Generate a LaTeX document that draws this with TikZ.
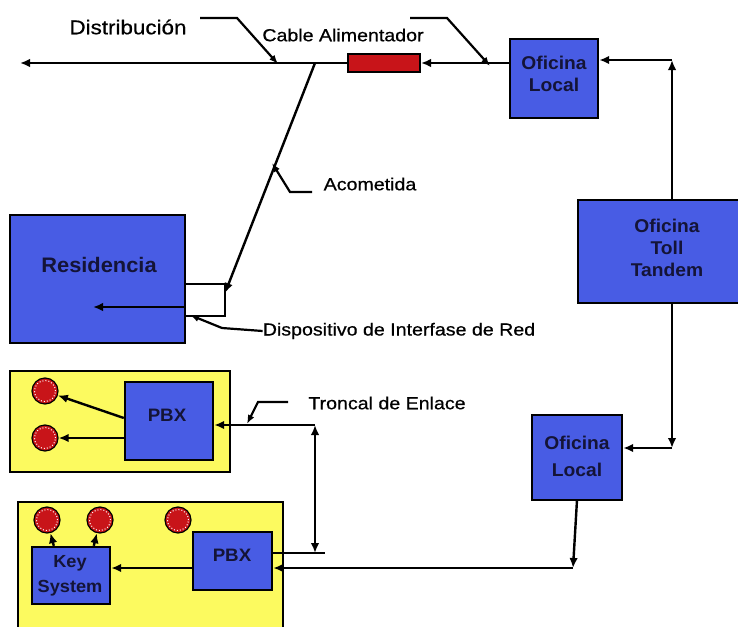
\documentclass[tikz,border=0pt]{standalone}
\usepackage{fontspec}
\setmainfont{Liberation Sans}
\newfontfamily\lab[FakeStretch=1.12,FakeBold=0.6]{Liberation Sans}
\newfontfamily\boxf[FakeStretch=1.04]{Liberation Sans}
\usetikzlibrary{arrows.meta,calc}
\definecolor{boxblue}{RGB}{72,92,228}
\definecolor{cred}{RGB}{200,20,25}
\definecolor{ylw}{RGB}{252,250,95}
\definecolor{ink}{RGB}{20,20,55}
\tikzset{
  bluebox/.style={draw=black, line width=2.4pt, fill=boxblue, inner sep=0pt},
  boxtext/.style={inner sep=0pt, align=center, text=ink, font=\boxf\bfseries\fontsize{18.5}{22}\selectfont},
  ybox/.style={draw=black, line width=2.4pt, fill=ylw, inner sep=0pt},
  phone/.style={circle, draw=black, line width=1.2pt, fill=cred, minimum size=26pt, inner sep=0pt,
    path picture={\draw[white, dotted, line width=1pt] (path picture bounding box.center) circle (10.5pt);}},
  wire/.style={line width=2.4pt, -{Latex[length=10pt,width=8.5pt]}},
  plainwire/.style={line width=2.4pt},
  leader/.style={line width=2.2pt, -{Latex[length=9pt,width=7pt]}},
  lbl/.style={font=\lab\fontsize{17.5}{20}\selectfont, inner sep=0pt},
  intext/.style={font=\boxf\bfseries\fontsize{18}{25}\selectfont, inner sep=0pt, text=ink, align=center}
}
\begin{document}
\begin{tikzpicture}[x=1pt,y=-1pt]
\useasboundingbox (0,0) rectangle (738,626);
% yellow premises
\node[ybox, minimum width=220pt, minimum height=101pt] (y1) at (120,421.5) {};
\node[ybox, minimum width=265pt, minimum height=128pt] (y2) at (150.5,566) {};
% boxes
\node[bluebox, minimum width=88pt, minimum height=79pt] (ol1) at (554,78.5) {};
\node[boxtext] (ol1t) at (554,74) {Oficina\\Local};
\node[bluebox, minimum width=178pt, minimum height=103pt] (tt) at (667,251.5) {};
\node[boxtext] (ttt) at (667,248) {Oficina\\Toll\\Tandem};
\node[bluebox, minimum width=90pt, minimum height=85pt] (ol2) at (577,457.5) {};
\node[boxtext, font=\boxf\bfseries\fontsize{18.5}{27}\selectfont] (ol2t) at (577,456.5) {Oficina\\Local};
\node[draw=black, line width=2pt, fill=cred, minimum width=72pt, minimum height=18pt, inner sep=0pt] (red) at (384,63) {};
\node[bluebox, minimum width=175pt, minimum height=128pt] (res) at (97.5,279) {};
\node[intext, font=\boxf\bfseries\fontsize{21}{25}\selectfont] (restext) at (99,265) {Residencia};
\node[bluebox, minimum width=88pt, minimum height=78pt] (pbx1) at (169,421) {};
\node[intext] (pbx1t) at (167,415) {PBX};
\node[bluebox, minimum width=79pt, minimum height=58pt] (pbx2) at (232.5,561) {};
\node[intext] (pbx2t) at (232,555) {PBX};
\node[bluebox, minimum width=78pt, minimum height=57pt] (ks) at (71,575.5) {};
\node[intext, font=\boxf\bfseries\fontsize{17.5}{25}\selectfont] (kst) at (70,575.5) {Key\\System};
% phones
\node[phone] (c1) at (45,391) {};
\node[phone] (c2) at (45,438) {};
\node[phone] (c3) at (47,520) {};
\node[phone] (c4) at (100,520) {};
\node[phone] (c5) at (178,520) {};
% coordinates
\coordinate (lend) at (20,63);
\coordinate (j1) at (672,60);
\coordinate (j2) at (672,448);
\coordinate (j3) at (573,568);
\coordinate (tA) at (315,425);
\coordinate (tB) at (315,553);
\coordinate (tC) at (325,553);
\coordinate (tap) at (315,63);
\coordinate (nid1) at (185,284);
\coordinate (nid2) at (225,284);
\coordinate (nid3) at (225,316);
\coordinate (nid4) at (185,316);
\coordinate (nidin) at (225,293);
\coordinate (resin) at (93,307);
% main feeder and distribution
\draw[wire] (red.west) -- (lend);
\draw[wire] (ol1.west |- red.east) -- (red.east);
% toll tandem links
\draw[wire] (tt.north -| j1) -- (j1);
\draw[wire] (j1) -- (j1 -| ol1.east);
\draw[wire] (tt.south -| j2) -- (j2);
\draw[wire] (j2) -- (j2 -| ol2.east);
% local office 2 to PBX2
\draw[wire] (ol2.south |- 0,500) -- (j3);
\draw[wire] (j3) -- (j3 -| pbx2.east);
% tie trunk
\draw[plainwire] (tB -| pbx2.east) -- (tC);
\draw[line width=2.4pt, {Latex[length=10pt,width=8.5pt]}-{Latex[length=10pt,width=8.5pt]}] (tB) -- (tA);
\draw[wire] (tA) -- (tA -| pbx1.east);
% PBX1 to phones
\draw[wire] ($(pbx1.west)+(0,-3)$) -- (c1);
\draw[wire] ($(pbx1.west)+(0,17)$) -- (c2.east);
% PBX2 to key system, key system to phones
\draw[wire] (pbx2.west |- 0,568) -- (ks.east |- 0,568);
\draw[wire] ($(ks.north west)+(23,0)$) -- (c3);
\draw[wire] ($(ks.north west)+(63,0)$) -- (c4);
% residence: NID and drop
\draw[line width=2pt] (nid1) -- (nid2) -- (nid3) -- (nid4);
\draw[wire] (tap) -- (nidin);
\draw[wire] (res.east |- resin) -- (resin);
% labels
\node[lbl, font=\lab\fontsize{20}{22}\selectfont] (tdist) at (128,27) {Distribución};
\node[lbl] (tcab) at (343,35) {Cable Alimentador};
\node[lbl] (taco) at (370,184) {Acometida};
\node[lbl] (tdisp) at (399,331) {Dispositivo de Interfase de Red};
\node[lbl] (ttron) at (387,403) {Troncal de Enlace};
% leaders
\draw[leader] (200,18) -- (237,18) -- (278,64);
\draw[leader] (410,18) -- (447,18) -- (490,66);
\draw[leader] (312,192) -- (290,192) -- (272,163);
\draw[leader] (tdisp.west) -- (222,328) -- (190,315);
\draw[leader] (288,402) -- (258,402) -- (247,424);
\end{tikzpicture}
\end{document}
